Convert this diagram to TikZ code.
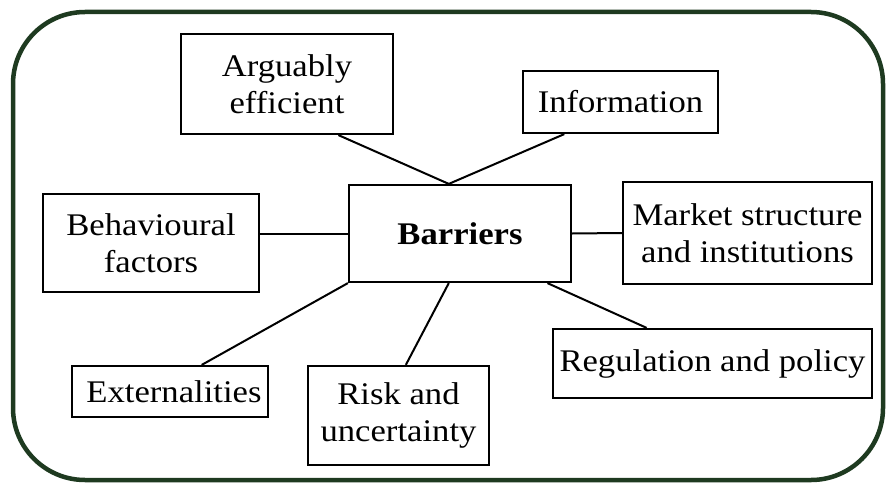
\documentclass[tikz,border=0pt]{standalone}
\usepackage{fontspec}
\setmainfont[FakeStretch=1.1]{Liberation Serif}
\usetikzlibrary{calc}
\definecolor{framegreen}{RGB}{30,58,32}
\begin{document}
\begin{tikzpicture}[x=1pt,y=-1pt,
		box/.style={draw,line width=2.2pt,align=center,inner sep=0pt,font=\fontsize{31.5}{37.5}\selectfont},
		link/.style={line width=2pt}]
		\useasboundingbox(0,0)rectangle(888,484);
		\draw[framegreen,line width=4.5pt,rounded corners=72pt](13,12)rectangle(883,480);
		\node[box,minimum width=222pt,minimum height=97pt](bar)at(460,233.5){\textbf{Barriers}};
		\node[box,minimum width=212pt,minimum height=100pt](arg)at(287,84){Arguably\\efficient};
		\node[box,minimum width=195pt,minimum height=62pt](info)at(620.5,102){Information};
		\node[box,minimum width=216pt,minimum height=98pt](beh)at(151,243){Behavioural\\factors};
		\node[box,minimum width=249pt,minimum height=102pt](mkt)at(747.5,233){Market structure\\and institutions};
		\node[box,minimum width=319pt,minimum height=69pt](reg)at(712.5,363.5){Regulation and policy};
		\node[box,minimum width=196pt,minimum height=51pt](ext)at(170,391.5){\hspace*{8pt}Externalities};
		\node[box,minimum width=181pt,minimum height=99pt](risk)at(398.5,415.5){Risk and\\uncertainty};
		\draw[link]($(arg.south west)!.74!(arg.south east)$)--($(bar.north west)!.45!(bar.north east)$);
		\draw[link]($(info.south west)!.215!(info.south east)$)--($(bar.north west)!.45!(bar.north east)$);
		\draw[link](beh.east|-bar.west)--(bar.west);
		\draw[link](bar.east)--(mkt.west);
		\draw[link](bar.south west)--($(ext.north west)!.66!(ext.north east)$);
		\draw[link]($(bar.south west)!.45!(bar.south east)$)--($(risk.north west)!.54!(risk.north east)$);
		\draw[link]($(bar.south west)!.89!(bar.south east)$)--($(reg.north west)!.295!(reg.north east)$);
	    \end{tikzpicture}
\end{document}
